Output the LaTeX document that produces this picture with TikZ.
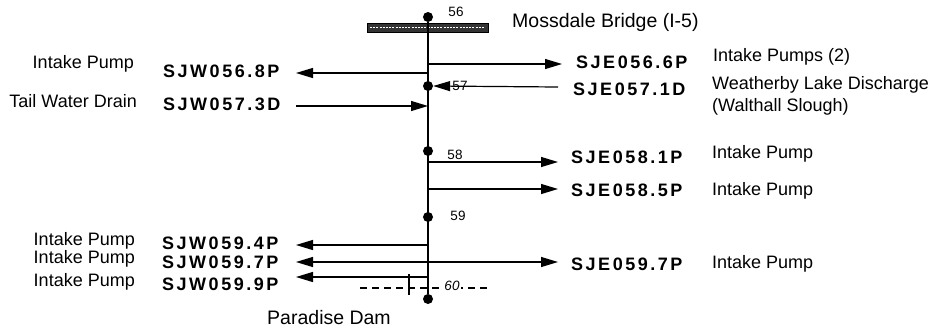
\documentclass[tikz,border=0pt]{standalone}
\usepackage{fontspec}
\setmainfont{Liberation Sans}
\newfontfamily\codefont[LetterSpace=14]{Liberation Sans}
\usetikzlibrary{arrows.meta}
\tikzset{
  lbl/.style={font=\fontsize{18}{21}\selectfont, inner sep=0pt},
  code/.style={font=\codefont\bfseries\fontsize{18}{21}\selectfont, inner sep=0pt},
  num/.style={font=\fontsize{13.5}{15}\selectfont, inner sep=0pt},
  dot/.style={circle, fill=black, inner sep=0pt, minimum size=10pt},
  arr/.style={line width=1.2pt, -{Triangle[length=17pt,width=10pt]}},
  ln/.style={line width=1.2pt}
}
\begin{document}
\begin{tikzpicture}[x=1pt,y=-1pt]
\useasboundingbox (0,0) rectangle (935,333);
% bridge bar
\draw[line width=1pt, fill=black!80] (367,23) rectangle (488,32);
\draw[white, line width=1.8pt, dash pattern=on 2pt off 1.2pt] (370,27.5) -- (485,27.5);
% dots
\node[dot] (d56) at (428,17) {};
\node[dot] (d57) at (428,86) {};
\node[dot] (d58) at (428,151) {};
\node[dot] (d59) at (428,217) {};
\node[dot] (d60) at (428,299) {};
\draw[ln] (d56) -- (d60);
% numbers
\node[num] (n56) at (456,12) {56};
\node[num] (n58) at (455,155) {58};
\node[num] (n59) at (458,216) {59};
% title labels
\node[lbl, font=\fontsize{19.5}{22}\selectfont, anchor=west] (moss) at (512,22) {Mossdale Bridge (I-5)};
\node[lbl, font=\fontsize{19.5}{22}\selectfont] (para) at (329,318) {Paradise Dam};
% branch points
\coordinate (b1) at (428,64);
\coordinate (b2) at (428,73);
\coordinate (b4) at (428,106);
\coordinate (b5) at (428,162);
\coordinate (b6) at (428,189);
\coordinate (b7) at (428,245);
\coordinate (b8) at (428,262);
\coordinate (b9) at (428,277);
% arrow far ends
\coordinate (e1) at (562,64);
\coordinate (e2) at (296,73);
\coordinate (s3) at (558,87);
\coordinate (s4) at (296,106);
\coordinate (e5) at (558,162);
\coordinate (e6) at (558,189);
\coordinate (e7) at (296,245);
\coordinate (e8l) at (296,262);
\coordinate (e8r) at (558,262);
\coordinate (e9) at (296,277);
% connectors
\draw[arr] (b1) -- (e1);
\draw[arr] (b2) -- (e2);
\draw[arr] (s3) -- (d57.east);
\draw[arr] (s4) -- (b4);
\draw[arr] (b5) -- (e5);
\draw[arr] (b6) -- (e6);
\draw[arr] (b7) -- (e7);
\draw[arr] (b8) -- (e8l);
\draw[arr] (b8) -- (e8r);
\draw[arr] (b9) -- (e9);
\node[num] (n57) at (460,86) {57};
% bottom marks
\coordinate (t1) at (409,274);
\coordinate (t2) at (409,295);
\draw[line width=2pt] (t1) -- (t2);
\coordinate (dl) at (360,288);
\coordinate (dr) at (487,288);
\draw[line width=1.2pt, dash pattern=on 7pt off 5pt] (dl) -- (dr);
\node[num, fill=white, inner sep=1pt, font=\itshape\fontsize{13.5}{15}\selectfont] (n60) at (452,286) {60};
% codes
\node[code, anchor=west] (c1) at (576,62) {SJE056.6P};
\node[code, anchor=west] (c2) at (163,71) {SJW056.8P};
\node[code, anchor=west] (c3) at (573,89) {SJE057.1D};
\node[code, anchor=west] (c4) at (163,104) {SJW057.3D};
\node[code, anchor=west] (c5) at (571,157) {SJE058.1P};
\node[code, anchor=west] (c6) at (571,190) {SJE058.5P};
\node[code, anchor=west] (c7) at (162,243) {SJW059.4P};
\node[code, anchor=west] (c8) at (162,262) {SJW059.7P};
\node[code, anchor=west] (c8r) at (571,264) {SJE059.7P};
\node[code, anchor=west] (c9) at (162,284) {SJW059.9P};
% descriptions
\node[lbl, anchor=west] (l1) at (713,57) {Intake Pumps (2)};
\node[lbl, anchor=east] (l2) at (134,64) {Intake Pump};
\node[lbl, anchor=west] (l3) at (712,85) {Weatherby Lake Discharge};
\node[lbl, anchor=west] (l3b) at (712,107) {(Walthall Slough)};
\node[lbl, anchor=east] (l4) at (137,101) {Tail Water Drain};
\node[lbl, anchor=west] (l5) at (712,154) {Intake Pump};
\node[lbl, anchor=west] (l6) at (712,191) {Intake Pump};
\node[lbl, anchor=east] (l7) at (135,241) {Intake Pump};
\node[lbl, anchor=east] (l8) at (135,259) {Intake Pump};
\node[lbl, anchor=east] (l9) at (135,282) {Intake Pump};
\node[lbl, anchor=west] (l8r) at (712,264) {Intake Pump};
\end{tikzpicture}
\end{document}
